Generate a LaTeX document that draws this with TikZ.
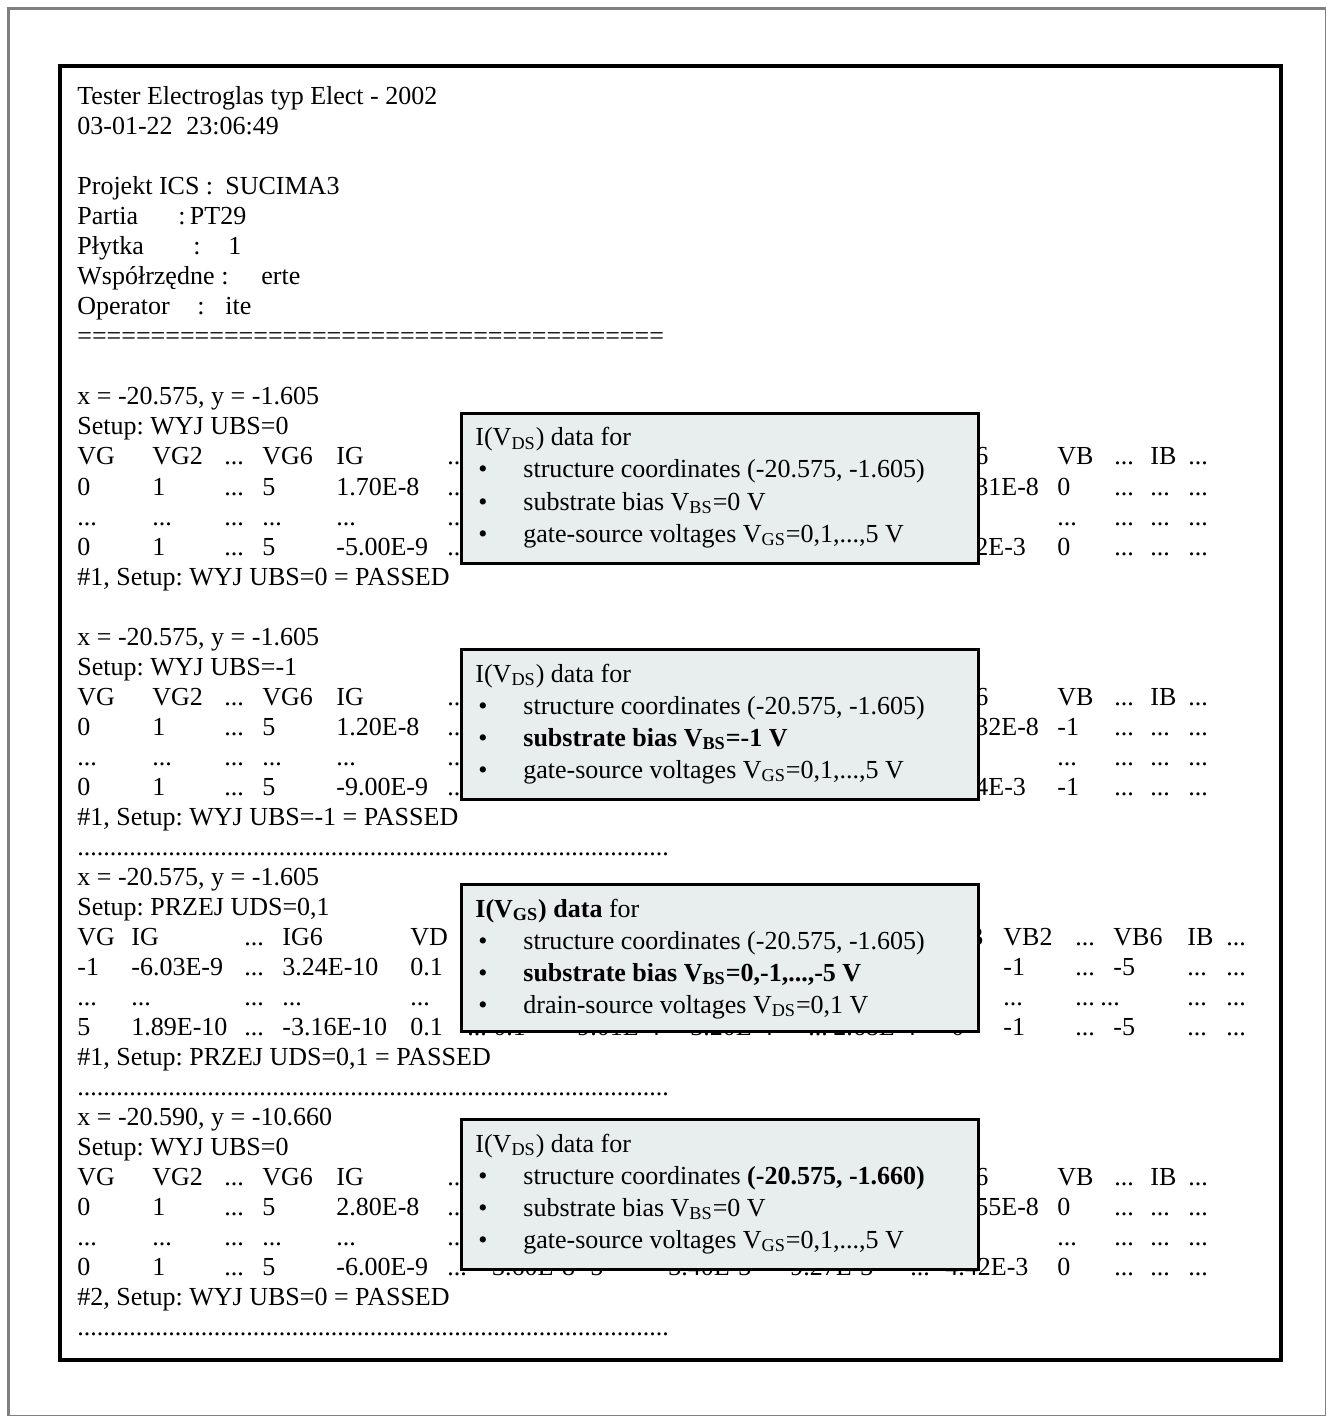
\documentclass[tikz,border=0pt]{standalone}
\usepackage{fontspec}
\setmainfont{Liberation Serif}
\usetikzlibrary{positioning}

\definecolor{notefill}{RGB}{232,238,238}
\definecolor{framegray}{RGB}{128,128,128}
\newcommand{\fld}[2]{\makebox[#1pt][l]{#2}}
\frenchspacing

\begin{document}
\begin{tikzpicture}[
    x=0.5pt, y=-0.5pt,
    line/.style={anchor=base west, inner sep=0pt, font=\fontsize{13}{15}\selectfont},
    notebox/.style={rectangle, draw, fill=notefill, line width=1.5pt, anchor=north west, minimum width=258.5pt, minimum height=75pt, inner sep=0pt},
    notetext/.style={anchor=base west, inner sep=0pt, font=\fontsize{13}{15}\selectfont},
    dot/.style={anchor=base, inner sep=0pt, font=\fontsize{13}{15}\selectfont},
]
    \useasboundingbox (0,0) rectangle (1326,1416);

    % Page frame and sheet
    \draw[framegray, line width=1.5pt] (8.5,1416) -- (8.5,8.5) -- (1326,8.5);
    \draw[framegray, line width=0.5pt] (1325.5,8.5) -- (1325.5,1415.5) -- (8.5,1415.5);
    \draw[line width=2pt] (60,66) rectangle (1280.5,1360);

    % Header
    \node[line] (title) at (77,105) {Tester Electroglas typ Elect - 2002};
    \node[line] (stamp) at (77,135) {\fld{54.5}{03-01-22}23:06:49};
    \node[line] (proj) at (77,195) {\fld{74}{Projekt ICS :}SUCIMA3};
    \node[line] (lot) at (77,225) {\fld{50.5}{Partia}:\,PT29};
    \node[line] (wafer) at (77,255) {\fld{58}{Płytka}\fld{17.5}{:}1};
    \node[line] (coord) at (77,285) {\fld{72}{Współrzędne}\fld{20}{:}erte};
    \node[line] (oper) at (77,315) {\fld{60}{Operator}\fld{14}{:}ite};
    \node[line] (rule) at (77,345) {========================================};

    % Section 1: WYJ UBS=0
    \node[line] (s1xy) at (77,405) {x = -20.575, y = -1.605};
    \node[line] (s1set) at (77,435) {Setup: WYJ UBS=0};
    \node[line] (s1h) at (77,465) {\fld{37.5}{VG}\fld{36}{VG2}\fld{19}{...}\fld{37}{VG6}\fld{55.5}{IG}...};
    \node[line] (s1a) at (77,495) {\fld{37.5}{0}\fld{36}{1}\fld{19}{...}\fld{37}{5}\fld{55.5}{1.70E-8}...};
    \node[line] (s1b) at (77,525) {\fld{37.5}{...}\fld{36}{...}\fld{19}{...}\fld{37}{...}\fld{55.5}{...}...};
    \node[line] (s1c) at (77,555) {\fld{37.5}{0}\fld{36}{1}\fld{19}{...}\fld{37}{5}\fld{55.5}{-5.00E-9}...};
    \node[line] (s1hR) at (975,465) {\fld{41}{6}\fld{28.5}{VB}\fld{18}{...}\fld{19}{IB}...};
    \node[line] (s1aR) at (975,495) {\fld{41}{31E-8}\fld{28.5}{0}\fld{18}{...}\fld{19}{...}...};
    \node[line] (s1bR) at (1057,525) {\fld{28.5}{...}\fld{18}{...}\fld{19}{...}...};
    \node[line] (s1cR) at (975,555) {\fld{41}{2E-3}\fld{28.5}{0}\fld{18}{...}\fld{19}{...}...};
    \node[line] (s1pass) at (77,585) {\#1, Setup: WYJ UBS=0 = PASSED};

    % Section 2: WYJ UBS=-1
    \node[line] (s2xy) at (77,645) {x = -20.575, y = -1.605};
    \node[line] (s2set) at (77,675) {Setup: WYJ UBS=-1};
    \node[line] (s2h) at (77,705) {\fld{37.5}{VG}\fld{36}{VG2}\fld{19}{...}\fld{37}{VG6}\fld{55.5}{IG}...};
    \node[line] (s2a) at (77,735) {\fld{37.5}{0}\fld{36}{1}\fld{19}{...}\fld{37}{5}\fld{55.5}{1.20E-8}...};
    \node[line] (s2b) at (77,765) {\fld{37.5}{...}\fld{36}{...}\fld{19}{...}\fld{37}{...}\fld{55.5}{...}...};
    \node[line] (s2c) at (77,795) {\fld{37.5}{0}\fld{36}{1}\fld{19}{...}\fld{37}{5}\fld{55.5}{-9.00E-9}...};
    \node[line] (s2hR) at (975,705) {\fld{41}{6}\fld{28.5}{VB}\fld{18}{...}\fld{19}{IB}...};
    \node[line] (s2aR) at (975,735) {\fld{41}{32E-8}\fld{28.5}{-1}\fld{18}{...}\fld{19}{...}...};
    \node[line] (s2bR) at (1057,765) {\fld{28.5}{...}\fld{18}{...}\fld{19}{...}...};
    \node[line] (s2cR) at (975,795) {\fld{41}{4E-3}\fld{28.5}{-1}\fld{18}{...}\fld{19}{...}...};
    \node[line] (s2pass) at (77,825) {\#1, Setup: WYJ UBS=-1 = PASSED};
    \node[line] (sep1) at (77,855) {...........................................................................................};

    % Section 3: PRZEJ UDS=0,1
    \node[line] (s3xy) at (77,885) {x = -20.575, y = -1.605};
    \node[line] (s3set) at (77,915) {Setup: PRZEJ UDS=0,1};
    \node[line] (s3h) at (77,945) {\fld{27}{VG}\fld{56.5}{IG}\fld{19}{...}\fld{64}{IG6}VD};
    \node[line] (s3a) at (77,975) {\fld{27}{-1}\fld{56.5}{-6.03E-9}\fld{19}{...}\fld{64}{3.24E-10}0.1};
    \node[line] (s3b) at (77,1005) {\fld{27}{...}\fld{56.5}{...}\fld{19}{...}\fld{64}{...}...};
    \node[line] (s3c) at (77,1035) {\fld{27}{5}\fld{56.5}{1.89E-10}\fld{19}{...}\fld{64}{-3.16E-10}\fld{28.5}{0.1}\fld{13}{...}\fld{42}{0.1}\fld{56.5}{9.01E-4}\fld{59}{3.20E-4}\fld{12.5}{...}\fld{59}{2.68E-4}0};
    \node[line] (s3hR) at (970,945) {\fld{16.5}{3}\fld{36}{VB2}\fld{19}{...}\fld{37}{VB6}\fld{19.5}{IB}...};
    \node[line] (s3aR) at (1003,975) {\fld{36}{-1}\fld{19}{...}\fld{37}{-5}\fld{19.5}{...}...};
    \node[line] (s3bR) at (1003,1005) {\fld{36}{...}\fld{12.5}{...}\fld{43.5}{...}\fld{19.5}{...}...};
    \node[line] (s3cR) at (1003,1035) {\fld{36}{-1}\fld{19}{...}\fld{37}{-5}\fld{19.5}{...}...};
    \node[line] (s3pass) at (77,1065) {\#1, Setup: PRZEJ UDS=0,1 = PASSED};
    \node[line] (sep2) at (77,1095) {...........................................................................................};

    % Section 4: next structure
    \node[line] (s4xy) at (77,1125) {x = -20.590, y = -10.660};
    \node[line] (s4set) at (77,1155) {Setup: WYJ UBS=0};
    \node[line] (s4h) at (77,1185) {\fld{37.5}{VG}\fld{36}{VG2}\fld{19}{...}\fld{37}{VG6}\fld{55.5}{IG}...};
    \node[line] (s4a) at (77,1215) {\fld{37.5}{0}\fld{36}{1}\fld{19}{...}\fld{37}{5}\fld{55.5}{2.80E-8}...};
    \node[line] (s4b) at (77,1245) {\fld{37.5}{...}\fld{36}{...}\fld{19}{...}\fld{37}{...}\fld{55.5}{...}...};
    \node[line] (s4c) at (77,1275) {\fld{37.5}{0}\fld{36}{1}\fld{19}{...}\fld{37}{5}\fld{55.5}{-6.00E-9}\fld{18}{...}\fld{53.5}{-3.60E-8}\fld{39}{5}\fld{61}{3.40E-3}\fld{60}{9.27E-3}\fld{17.5}{...}\fld{56}{4.42E-3}\fld{28.5}{0}\fld{18}{...}\fld{19}{...}...};
    \node[line] (s4hR) at (975,1185) {\fld{41}{6}\fld{28.5}{VB}\fld{18}{...}\fld{19}{IB}...};
    \node[line] (s4aR) at (975,1215) {\fld{41}{55E-8}\fld{28.5}{0}\fld{18}{...}\fld{19}{...}...};
    \node[line] (s4bR) at (1057,1245) {\fld{28.5}{...}\fld{18}{...}\fld{19}{...}...};
    \node[line] (s4pass) at (77,1305) {\#2, Setup: WYJ UBS=0 = PASSED};
    \node[line] (sep3) at (77,1335) {...........................................................................................};

    % Note 1
    \node[notebox] (note1) at (460,412) {};
    \node[notetext] (n1t) at ([shift={(15,34)}]note1.north west) {I(V\textsubscript{DS}) data for};
    \node[dot] (n1d1) at ([shift={(23,66)}]note1.north west) {•};
    \node[dot] (n1d2) at ([shift={(23,98)}]note1.north west) {•};
    \node[dot] (n1d3) at ([shift={(23,130)}]note1.north west) {•};
    \node[notetext] (n1a) at ([shift={(63,66)}]note1.north west) {structure coordinates (-20.575, -1.605)};
    \node[notetext] (n1b) at ([shift={(63,98)}]note1.north west) {substrate bias V\textsubscript{BS}=0 V};
    \node[notetext] (n1c) at ([shift={(63,130)}]note1.north west) {gate-source voltages V\textsubscript{GS}=0,1,...,5 V};

    % Note 2
    \node[notebox] (note2) at (460,648) {};
    \node[notetext] (n2t) at ([shift={(15,34)}]note2.north west) {I(V\textsubscript{DS}) data for};
    \node[dot] (n2d1) at ([shift={(23,66)}]note2.north west) {•};
    \node[dot] (n2d2) at ([shift={(23,98)}]note2.north west) {•};
    \node[dot] (n2d3) at ([shift={(23,130)}]note2.north west) {•};
    \node[notetext] (n2a) at ([shift={(63,66)}]note2.north west) {structure coordinates (-20.575, -1.605)};
    \node[notetext] (n2b) at ([shift={(63,98)}]note2.north west) {\textbf{substrate bias V\textsubscript{BS}=-1 V}};
    \node[notetext] (n2c) at ([shift={(63,130)}]note2.north west) {gate-source voltages V\textsubscript{GS}=0,1,...,5 V};

    % Note 3 (the last data row peeks out under it)
    \node[notebox, minimum height=73.5pt] (note3) at (460,883) {};
    \node[notetext] (n3t) at ([shift={(15,34)}]note3.north west) {\textbf{I(V\textsubscript{GS}) data} for};
    \node[dot] (n3d1) at ([shift={(23,66)}]note3.north west) {•};
    \node[dot] (n3d2) at ([shift={(23,98)}]note3.north west) {•};
    \node[dot] (n3d3) at ([shift={(23,130)}]note3.north west) {•};
    \node[notetext] (n3a) at ([shift={(63,66)}]note3.north west) {structure coordinates (-20.575, -1.605)};
    \node[notetext] (n3b) at ([shift={(63,98)}]note3.north west) {\textbf{substrate bias V\textsubscript{BS}=0,-1,...,-5 V}};
    \node[notetext] (n3c) at ([shift={(63,130)}]note3.north west) {drain-source voltages V\textsubscript{DS}=0,1 V};

    % Note 4
    \node[notebox] (note4) at (460,1118) {};
    \node[notetext] (n4t) at ([shift={(15,34)}]note4.north west) {I(V\textsubscript{DS}) data for};
    \node[dot] (n4d1) at ([shift={(23,66)}]note4.north west) {•};
    \node[dot] (n4d2) at ([shift={(23,98)}]note4.north west) {•};
    \node[dot] (n4d3) at ([shift={(23,130)}]note4.north west) {•};
    \node[notetext] (n4a) at ([shift={(63,66)}]note4.north west) {structure coordinates \textbf{(-20.575, -1.660)}};
    \node[notetext] (n4b) at ([shift={(63,98)}]note4.north west) {substrate bias V\textsubscript{BS}=0 V};
    \node[notetext] (n4c) at ([shift={(63,130)}]note4.north west) {gate-source voltages V\textsubscript{GS}=0,1,...,5 V};

\end{tikzpicture}
\end{document}
